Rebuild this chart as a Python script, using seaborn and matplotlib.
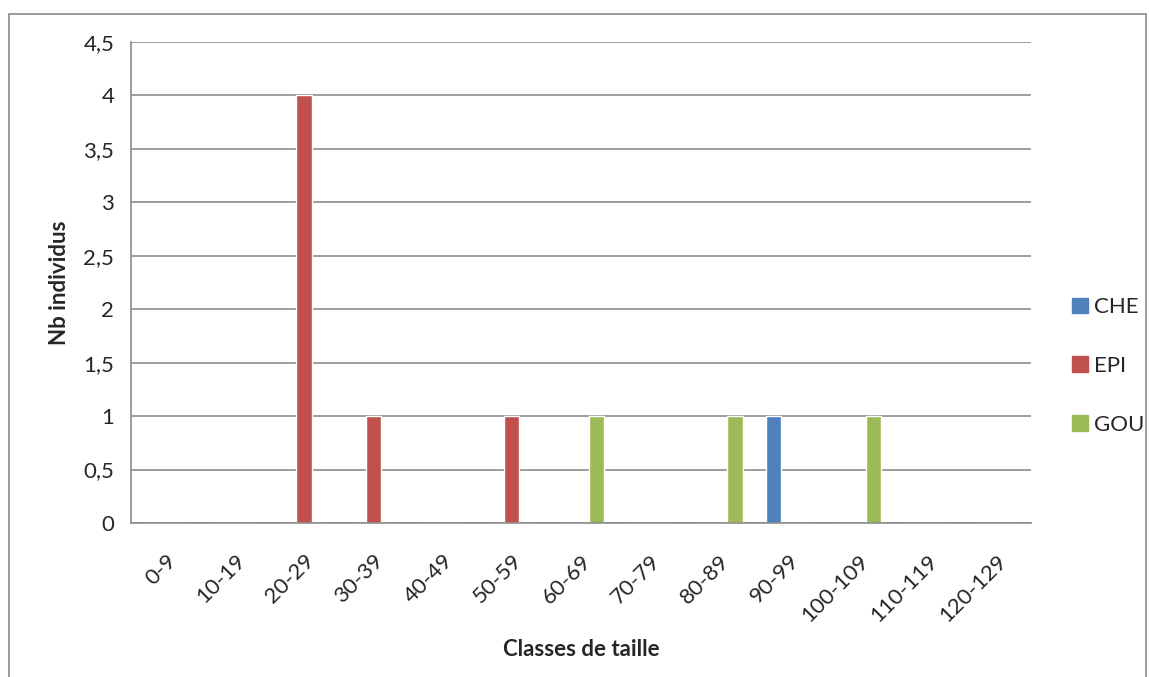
import pandas as pd
import matplotlib
matplotlib.use("Agg")
import matplotlib.pyplot as plt
from matplotlib.patches import Rectangle
from matplotlib.ticker import FuncFormatter, MultipleLocator
import seaborn as sns

# Data
classes = ["0-9", "10-19", "20-29", "30-39", "40-49", "50-59", "60-69",
           "70-79", "80-89", "90-99", "100-109", "110-119", "120-129"]
che = [0, 0, 0, 0, 0, 0, 0, 0, 0, 1, 0, 0, 0]
epi = [0, 0, 4, 1, 0, 1, 0, 0, 0, 0, 0, 0, 0]
gou = [0, 0, 0, 0, 0, 0, 1, 0, 1, 0, 1, 0, 0]
especes = ["CHE", "EPI", "GOU"]
couleurs = ["#4F81BD", "#C0504D", "#9BBB59"]

df = pd.DataFrame({
    "classe": classes * 3,
    "nb": che + epi + gou,
    "espece": ["CHE"] * len(classes) + ["EPI"] * len(classes) + ["GOU"] * len(classes),
})

sns.set_style("white")
plt.rcParams["font.family"] = ["Lato", "DejaVu Sans"]
fs = 16

fig = plt.figure(figsize=(11.49, 6.77), dpi=100)
ax = fig.add_axes([131 / 1149, 1 - 523 / 677, 900 / 1149, 481 / 677])

sns.barplot(data=df, x="classe", y="nb", hue="espece", hue_order=especes,
            palette=couleurs, width=0.667, saturation=1, ax=ax, legend=False)

grid_col = "#8c8c8c"
ax.set_ylim(0, 4.5)
ax.set_xlim(-0.5, len(classes) - 0.5)
ax.yaxis.set_major_locator(MultipleLocator(0.5))
ax.yaxis.set_major_formatter(FuncFormatter(lambda v, p: f"{v:g}".replace(".", ",")))
ax.yaxis.grid(True, color=grid_col, linewidth=1.2)
ax.set_axisbelow(True)

for s in ["top", "right"]:
    ax.spines[s].set_visible(False)
for s in ["left", "bottom"]:
    ax.spines[s].set_color(grid_col)
    ax.spines[s].set_linewidth(1.2)

# tick marks between categories, labels at centres
ax.set_xticks(range(len(classes)))
ax.set_xticklabels(classes, rotation=45, ha="right", rotation_mode="anchor")
ax.set_xticks([i - 0.5 for i in range(len(classes) + 1)], minor=True)
ax.tick_params(axis="x", which="major", length=0, pad=20, labelsize=fs)
ax.tick_params(axis="x", which="minor", length=9, width=1.2, color=grid_col)
ax.tick_params(axis="y", length=9, width=1.2, color=grid_col, labelsize=fs, pad=3)

ax.set_xlabel("Classes de taille", fontsize=fs, fontweight="bold", labelpad=10)
ax.set_ylabel("Nb individus", fontsize=fs, fontweight="bold", labelpad=10)

handles = [Rectangle((0, 0), 1, 1, color=c) for c in couleurs]
fig.legend(handles, especes, loc="center left", bbox_to_anchor=(1052 / 1149, 1 - 366 / 677),
           frameon=False, fontsize=fs, handlelength=0.7, handleheight=0.7,
           handletextpad=0.3, labelspacing=1.75)

# outer chart border
fig.patches.append(Rectangle((9 / 1149, -0.01), 1137 / 1149, 1 - 14 / 677 + 0.01,
                             transform=fig.transFigure, fill=False,
                             edgecolor="#8c8c8c", linewidth=1.2))

fig.savefig("out.png", dpi=100)
